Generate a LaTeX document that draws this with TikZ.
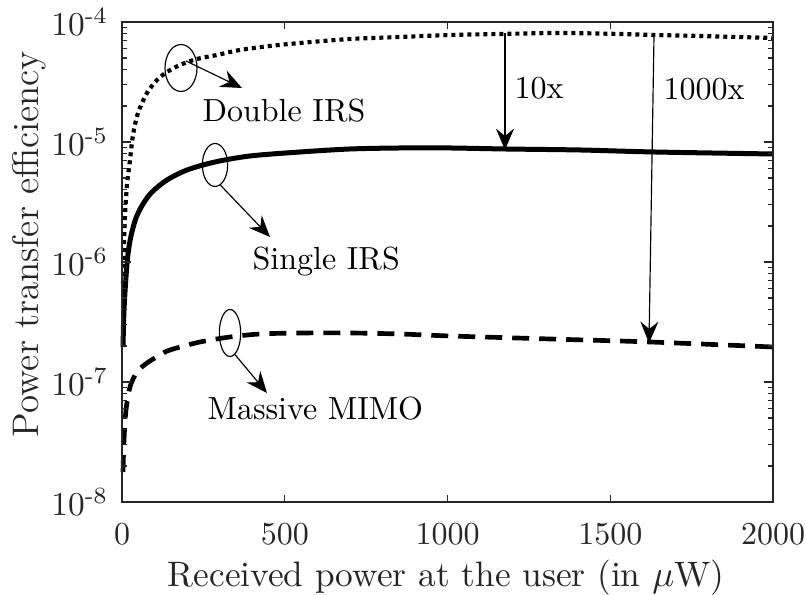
\documentclass[tikz,border=0pt]{standalone}
\usepackage{amsmath}
\usetikzlibrary{arrows.meta,shapes.geometric}

\begin{document}
\begin{tikzpicture}[x=0.3pt,y=-0.3pt,
  axisline/.style={line width=0.45pt,draw=black!85},
  tickmark/.style={line width=0.4pt,draw=black!85},
  ticklabel/.style={font=\fontsize{9.6}{11}\selectfont,inner sep=0pt,text=black!85},
  axislabel/.style={inner sep=0pt,anchor=base,text=black!85},
  note/.style={font=\fontsize{9.6}{11}\selectfont,inner sep=0pt,anchor=base west},
  ring/.style={draw,ellipse,line width=0.35pt,inner sep=0pt},
  pointer/.style={line width=0.35pt,-{Stealth[length=6.4pt,width=5.4pt,inset=2.2pt]}},
  dblcurve/.style={line width=1.25pt,dash pattern=on 1.2pt off 1.2pt},
  sglcurve/.style={line width=1.5pt},
  mimcurve/.style={line width=1.4pt,dash pattern=on 5.1pt off 3pt},
]
\useasboundingbox (0,0) rectangle (805,595);

% curves (log-scale efficiency against received power)
\draw[dblcurve] plot[smooth,tension=0.5] coordinates {
  (123,284) (124,245) (125,215) (127,185) (130,160) (133,135) (138,113)
  (147,93) (157,80) (167,72) (180,65) (197,59) (217,55) (240,50) (270,46)
  (300,43) (350,39) (400,37) (450,35) (500,34) (560,33) (620,34) (654,35)
  (700,36) (773,38)};
\draw[sglcurve] plot[smooth,tension=0.5] coordinates {
  (123,347) (124,310) (126,277) (128,254) (131,236) (136,218) (143,204)
  (152,192) (167,180) (187,170) (215,162) (250,156) (300,152) (350,149)
  (400,148) (450,148) (505,149) (580,150) (654,152) (773,154)};
\draw[mimcurve] plot[smooth,tension=0.5] coordinates {
  (123,472) (124,440) (126,410) (130,387) (137,372) (147,363) (160,355)
  (170,350) (200,342) (230,337) (260,334) (300,333) (350,333) (400,334)
  (450,336) (550,339) (650,342) (773,347)};

% axes box
\draw[axisline] (122,22) rectangle (773,502);

% x ticks and labels
\foreach \k/\lab in {0/0,1/500,2/1000,3/1500,4/2000}{
  \pgfmathsetmacro\xx{122+162.75*\k}
  \draw[tickmark] (\xx,502) -- ++(0,-7);
  \draw[tickmark] (\xx,22) -- ++(0,7);
  \node[ticklabel,anchor=base] at (\xx,545) {\lab};
}
% y major ticks and labels
\foreach \d/\e in {0/4,1/5,2/6,3/7,4/8}{
  \pgfmathsetmacro\yy{22+120*\d}
  \draw[tickmark] (122,\yy) -- ++(9,0);
  \draw[tickmark] (773,\yy) -- ++(-9,0);
  \node[ticklabel,anchor=east] at (109,\yy) {$10^{\text{-}\e}$};
}
% y minor ticks
\foreach \d in {0,...,3}{
  \foreach \m in {2,...,9}{
    \pgfmathsetmacro\yy{142+120*\d-120*log10(\m)}
    \draw[tickmark] (122,\yy) -- ++(5,0);
    \draw[tickmark] (773,\yy) -- ++(-5,0);
  }
}

% axis labels
\node[axislabel,font=\fontsize{10.6}{12}\selectfont] (xlab) at (446,587)
  {Received power at the user (in $\mu$W)};
\node[axislabel,rotate=90,font=\fontsize{11.1}{13}\selectfont] (ylab) at (38,244)
  {Power transfer efficiency};

% curve markers and their labels
\node[ring,minimum width=9.6pt,minimum height=14.1pt] (dblring) at (181,68) {};
\node[ring,minimum width=7.6pt,minimum height=12.9pt] (sglring) at (215,165) {};
\node[ring,minimum width=6.4pt,minimum height=14.1pt] (mimring) at (230,333) {};

\node[note] (dbllab) at (202,122) {Double IRS};
\node[note] (sgllab) at (252,270) {Single IRS};
\node[note] (mimlab) at (207,420) {Massive MIMO};
\node[note] (tenlab) at (514,99) {10x};
\node[note] (thoulab) at (663,100) {1000x};

\coordinate (dblfrom) at (186,61);
\coordinate (dblto) at (242,88);
\coordinate (sglto) at (270,237);
\coordinate (mimto) at (267,393);
\draw[pointer] (dblfrom) -- (dblto);
\draw[pointer] (sglring.285) -- (sglto);
\draw[pointer] (mimring.283) -- (mimto);

% gain arrows between the curves
\coordinate (tenfrom) at (505,33);
\coordinate (tento) at (505,150);
\coordinate (thoufrom) at (654,36);
\coordinate (thouto) at (649,343);
\draw[pointer] (tenfrom) -- (tento);
\draw[pointer] (thoufrom) -- (thouto);
\end{tikzpicture}
\end{document}
